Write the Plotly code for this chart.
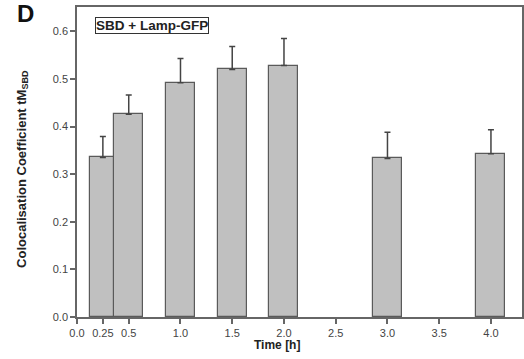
import plotly.graph_objects as go

times = [0.25, 0.5, 1.0, 1.5, 2.0, 3.0, 4.0]
values = [0.335, 0.426, 0.492, 0.520, 0.528, 0.333, 0.343]
errors = [0.044, 0.040, 0.051, 0.048, 0.057, 0.055, 0.050]
x_tick_vals = [0.0, 0.25, 0.5, 1.0, 1.5, 2.0, 2.5, 3.0, 3.5, 4.0]
x_tick_text = ["0.0", "0.25", "0.5", "1.0", "1.5", "2.0", "2.5", "3.0", "3.5", "4.0"]
y_tick_vals = [0.0, 0.1, 0.2, 0.3, 0.4, 0.5, 0.6]

bar_widths = [0.24, 0.28, 0.28, 0.28, 0.28, 0.28, 0.28]

FONT = "Liberation Sans, Arial, sans-serif"

fig = go.Figure()
fig.add_trace(go.Bar(
    x=times, y=values, width=bar_widths,
    marker=dict(color="#c0c0c0", line=dict(color="#5a5a5a", width=1.2)),
    error_y=dict(type="data", array=errors, arrayminus=[0] * len(errors),
                 symmetric=False, color="#444444", thickness=1.5, width=3),
    showlegend=False,
))

fig.update_layout(
    width=524, height=359,
    margin=dict(l=77, r=2, t=7, b=42, autoexpand=False),
    paper_bgcolor="white", plot_bgcolor="white",
    font=dict(family=FONT, size=11, color="#444444"),
    bargap=0,
    xaxis=dict(range=[0, 4.3], tickvals=x_tick_vals, ticktext=x_tick_text,
               showline=True, linecolor="#666666", linewidth=1.5, mirror=True,
               ticks="outside", ticklen=5, tickcolor="#666666", tickwidth=1.5,
               showgrid=False, zeroline=False,
               tickfont=dict(size=11, color="#444444")),
    yaxis=dict(range=[0, 0.651], tickvals=y_tick_vals, tickformat=".1f",
               showline=True, linecolor="#666666", linewidth=1.5, mirror=True,
               ticks="outside", ticklen=5, tickcolor="#666666", tickwidth=1.5,
               showgrid=False, zeroline=False,
               tickfont=dict(size=11, color="#444444")),
    annotations=[
        dict(text="<b>D</b>", xref="paper", yref="paper", x=-0.115, y=0.979,
             xanchor="center", yanchor="middle", showarrow=False,
             font=dict(size=24, color="#111111", family=FONT)),
        dict(text="<b>SBD + Lamp-GFP</b>", xref="paper", yref="paper",
             x=0.040, y=0.968, xanchor="left", yanchor="top", showarrow=False,
             bordercolor="#333333", borderwidth=1, borderpad=0, bgcolor="white",
             font=dict(size=13.5, color="#222222", family=FONT)),
        dict(text="<b>Colocalisation Coefficient tM<sub>SBD</sub></b>",
             xref="paper", yref="paper", x=-0.124, y=0.477, textangle=-90,
             xanchor="center", yanchor="middle", showarrow=False,
             font=dict(size=13, color="#222222", family=FONT)),
        dict(text="<b>Time [h]</b>", xref="paper", yref="paper",
             x=0.449, y=-0.090, xanchor="center", yanchor="middle", showarrow=False,
             font=dict(size=12, color="#222222", family=FONT)),
    ],
)

fig.write_html(
    "out.html",
    config={"displayModeBar": False},
    post_script="document.body.style.margin='0';document.body.style.padding='0';",
)
